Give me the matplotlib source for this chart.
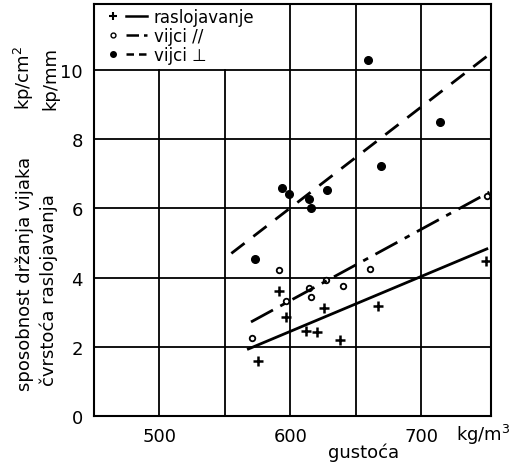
import matplotlib.pyplot as plt
from matplotlib.lines import Line2D
from matplotlib.legend_handler import HandlerTuple

plt.rcParams['font.family'] = ['DejaVu Sans']

# raslojavanje (+)
rasl_x = [575, 591, 597, 612, 620, 626, 638, 667, 749]
rasl_y = [1.6, 3.6, 2.87, 2.45, 2.42, 3.13, 2.2, 3.18, 4.48]
rasl_line_x = [568, 750]
rasl_line_y = [1.94, 4.83]

# vijci // (o)
par_x = [571, 591, 597, 614, 616, 627, 640, 661, 750]
par_y = [2.25, 4.22, 3.32, 3.7, 3.44, 3.93, 3.76, 4.25, 6.36]
par_line_x = [570, 752]
par_line_y = [2.72, 6.47]

# vijci ⊥ (•)
perp_x = [573, 594, 599, 614, 616, 628, 659, 669, 714]
perp_y = [4.54, 6.59, 6.42, 6.27, 6.01, 6.53, 10.29, 7.22, 8.5]
perp_line_x = [555, 752]
perp_line_y = [4.7, 10.45]

x_ticks = [500, 600, 700]
y_ticks = [0, 2, 4, 6, 8, 10]

fig = plt.figure(figsize=(5.21, 4.64), dpi=100)
ax = fig.add_axes([0.180, 0.101, 0.762, 0.888])
ax.set_xlim(450, 753)
ax.set_ylim(0, 11.9)

# mreža
for gx in [500, 550]:
    ax.plot([gx, gx], [0, 10], color='black', lw=1.3, zorder=1)
for gx in [600, 650, 700]:
    ax.plot([gx, gx], [0, 11.9], color='black', lw=1.3, zorder=1)
for gy in [2, 4, 6, 8, 10]:
    ax.axhline(gy, color='black', lw=1.3, zorder=1)

ax.plot(rasl_x, rasl_y, '+', color='black', ms=7, mew=1.8)
ax.plot(rasl_line_x, rasl_line_y, '-', color='black', lw=2)
ax.plot(par_x, par_y, 'o', mfc='white', mec='black', ms=4, mew=1.3)
ax.plot(par_line_x, par_line_y, color='black', lw=2, dashes=[9, 3, 2, 3])
ax.plot(perp_x, perp_y, 'o', color='black', ms=5.5)
ax.plot(perp_line_x, perp_line_y, color='black', lw=2, dashes=[6, 4])

for s in ax.spines.values():
    s.set_linewidth(1.5)

ax.set_xticks(x_ticks)
ax.set_yticks(y_ticks)
ax.tick_params(length=0, labelsize=13, pad=8)

h1 = (Line2D([], [], marker='+', ls='', color='black', ms=6, mew=1.5),
      Line2D([], [], ls='-', color='black', lw=1.8))
h2 = (Line2D([], [], marker='o', ls='', mfc='white', mec='black', ms=3.5),
      Line2D([], [], color='black', lw=1.8, dashes=[5, 2, 1.5, 2]))
h3 = (Line2D([], [], marker='o', ls='', color='black', ms=4),
      Line2D([], [], color='black', lw=1.8, dashes=[3, 2]))
ax.legend([h1, h2, h3], ['raslojavanje', 'vijci //', 'vijci \u22a5'],
          handler_map={tuple: HandlerTuple(ndivide=None, pad=0.2)},
          loc='upper left', frameon=False, fontsize=12, handlelength=2.7,
          handletextpad=0.4, labelspacing=0.05, borderaxespad=0.1,
          bbox_to_anchor=(0.0, 1.01))

fig.text(0.697, 0.025, 'gustoća', fontsize=13, ha='center', va='center')
fig.text(0.875, 0.062, 'kg/m$^3$', fontsize=13, ha='left', va='center')

fig.text(0.048, 0.158, 'sposobnost držanja vijaka', rotation=90, fontsize=13,
         ha='center', va='bottom')
fig.text(0.046, 0.762, 'kp/cm$^2$', rotation=90, fontsize=13,
         ha='center', va='bottom')
fig.text(0.094, 0.168, 'čvrstoća raslojavanja', rotation=90, fontsize=13,
         ha='center', va='bottom')
fig.text(0.096, 0.762, 'kp/mm', rotation=90, fontsize=13,
         ha='center', va='bottom')

fig.savefig('out.png', dpi=100)
